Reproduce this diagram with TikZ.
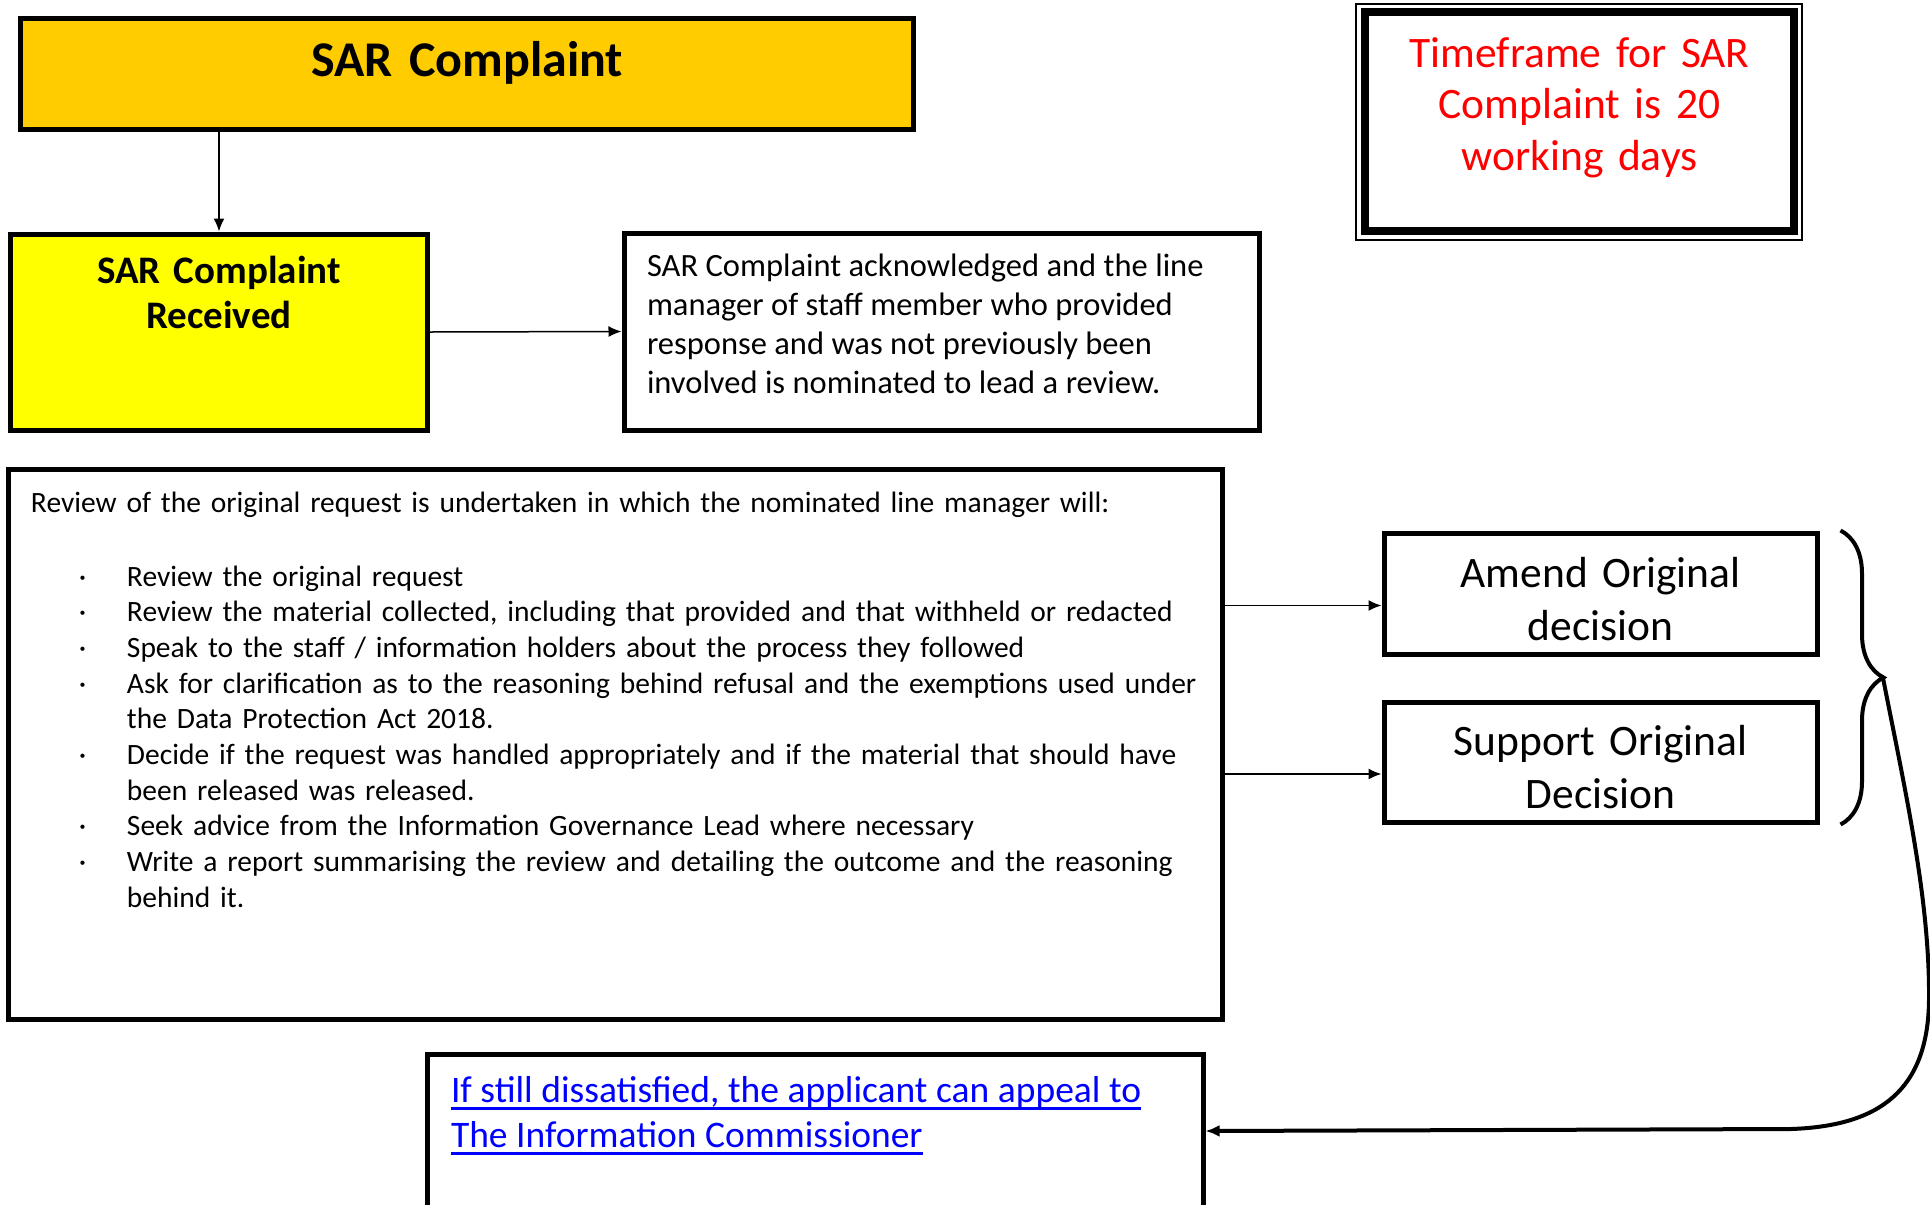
\documentclass[tikz,border=0pt]{standalone}
\usepackage{fontspec}
\setmainfont{Carlito}
\usepackage{tikz}
\usetikzlibrary{arrows.meta,calc,decorations.pathreplacing,positioning}
\definecolor{sarInk}{RGB}{0,0,0}
\definecolor{sarGold}{RGB}{255,204,0}
\definecolor{sarYellow}{RGB}{255,255,0}
\definecolor{sarRed}{RGB}{255,0,0}
\definecolor{sarLink}{RGB}{0,0,255}
\newcommand{\tightspace}{\spaceskip=0.23em plus 0.08em minus 0.04em\relax}
\newsavebox{\linkbox}
\newcommand{\linkline}[1]{\leavevmode\sbox{\linkbox}{#1}\rlap{\rule[-8bp]{\wd\linkbox}{2.6bp}}\usebox{\linkbox}}
\newcommand{\revpoint}[1]{\hangindent=96bp\hangafter=1\noindent\makebox[96bp][l]{\hspace{48bp}\textperiodcentered}#1\par}

\begin{document}
\begin{tikzpicture}[
  x=1bp, y=-1bp,
  >=Latex,
  box/.style={draw=sarInk,line width=5bp,inner sep=0pt,fill=white,text=sarInk},
  tight/.style={execute at begin node=\tightspace},
  title/.style={box,fill=sarGold,align=center,font=\bfseries\fontsize{50bp}{60bp}\selectfont},
  received/.style={box,fill=sarYellow,align=center,font=\bfseries\fontsize{39bp}{45bp}\selectfont},
  textbox/.style={box,tight,align=left,font=\fontsize{32.5bp}{39bp}\selectfont},
  review/.style={box,align=left,font=\fontsize{29.5bp}{35.7bp}\selectfont},
  outcome/.style={box,align=center,font=\fontsize{43.5bp}{53bp}\selectfont},
  timeframe/.style={box,line width=8bp,align=center,text=sarRed,font=\fontsize{43.5bp}{51.5bp}\selectfont},
  appeal/.style={box,tight,align=left,text=sarLink,font=\fontsize{37.5bp}{45bp}\selectfont},
  arrow/.style={->,line width=1.5bp,draw=sarInk,>={Latex[length=13bp,width=11bp]}},
  choicebrace/.style={line width=4bp,decorate,decoration={brace,amplitude=43bp}},
  returnline/.style={line width=4bp,-{Latex[length=14bp,width=12bp]}}
]
\path[use as bounding box,fill=white] (0,0) rectangle (1930,1204);

\node[title,minimum width=892bp,text width=892bp,text height=58bp,text depth=53bp] (complaint) at (467,73.5) {SAR Complaint};

\node[received,minimum width=416bp,text width=416bp,text height=49bp,text depth=147bp] (received) at (219,332) {SAR Complaint\\Received};

\node[textbox,minimum width=635bp,inner xsep=23bp,text width=589bp,text height=43bp,text depth=154bp] (ack) at (941.5,331.5) {SAR Complaint acknowledged and the line\\manager of staff member who provided\\response and was not previously been\\involved is nominated to lead a review.};

\node[timeframe,minimum width=429bp,text width=429bp,text height=55bp,text depth=164bp] (timeframe) at (1579.5,121.5) {Timeframe for SAR\\Complaint is 20\\working days};
\draw[line width=2bp] ([shift={(-5,-4)}]timeframe.north west) rectangle ([shift={(4,5)}]timeframe.south east);

\node[review,minimum width=1213bp,inner xsep=22bp,text width=1169bp,text height=43bp,text depth=507bp] (review) at (615.5,744) {Review of the original request is undertaken in which the nominated line manager will:\par\vspace{38.3bp}
\revpoint{Review the original request}
\revpoint{Review the material collected, including that provided and that withheld or redacted}
\revpoint{Speak to the staff / information holders about the process they followed}
\revpoint{Ask for clarification as to the reasoning behind refusal and the exemptions used under\newline the Data Protection Act 2018.}
\revpoint{Decide if the request was handled appropriately and if the material that should have\newline been released was released.}
\revpoint{Seek advice from the Information Governance Lead where necessary}
\revpoint{Write a report summarising the review and detailing the outcome and the reasoning\newline behind it.}};

\node[outcome,minimum width=433bp,text width=433bp,text height=54bp,text depth=67bp] (amend) at (1600.5,593.5) {Amend Original\\decision};
\node[outcome,minimum width=433bp,text width=433bp,text height=53bp,text depth=67bp] (support) at (1600.5,762) {Support Original\\Decision};

\node[appeal,minimum width=776bp,inner xsep=24bp,text width=728bp,text height=48bp,text depth=106bp] (appeal) at (815,1131) {\linkline{If still dissatisfied, the applicant can appeal to}\\\linkline{The Information Commissioner}};

% connectors
\draw[arrow] (received.north |- complaint.south) -- (received.north);
\draw[arrow] (received.east) -- (ack.west);
\draw[arrow] ([yshift=-12bp]amend.west -| review.east) -- ([yshift=-12bp]amend.west);
\draw[arrow] ([yshift=-12bp]support.west -| review.east) -- ([yshift=-12bp]support.west);

\draw[choicebrace] ([xshift=21bp]amend.north east) -- ([xshift=21bp]support.south east);
\coordinate (bracetip) at (1883,678);
\draw[returnline] (bracetip) .. controls (1905,790) and (1930,900) .. (1929,1000)
  .. controls (1928,1090) and (1880,1126) .. (1791,1129) -- (appeal.east);

\end{tikzpicture}
\end{document}
